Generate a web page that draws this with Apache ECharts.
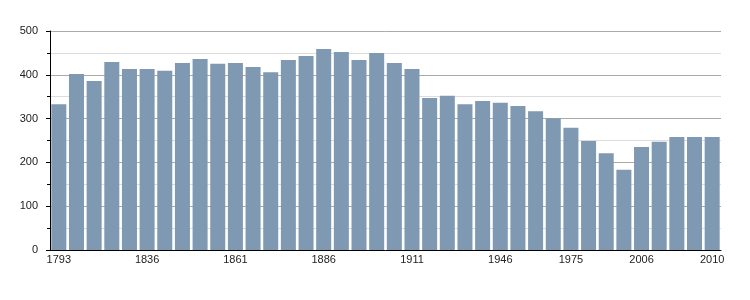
<!DOCTYPE html>
<html><head><meta charset="utf-8">
<script src="https://cdn.jsdelivr.net/npm/echarts@6/dist/echarts.min.js"></script>
<style>html,body{margin:0;padding:0;background:#fff}#c{width:750px;height:300px}</style>
</head><body><div id="c"></div>
<script>
const years = ['1793','1800','1806','1821','1831','1836','1841','1846','1851','1856','1861','1866','1872','1876','1881','1886','1891','1896','1901','1906','1911','1921','1926','1931','1936','1946','1954','1962','1968','1975','1982','1990','1999','2006','2007','2008','2009','2010'];
const population = [333,402,386,429,413,413,409,427,436,425,427,418,406,434,443,459,452,434,450,427,413,347,352,333,340,336,329,317,301,279,249,221,183,235,247,258,258,258];
const shownLabels = ['1793','1836','1861','1886','1911','1946','1975','2006','2010'];
const yTicks = {min:0, max:500, interval:100};

const chart = echarts.init(document.getElementById('c'), null, {renderer:'canvas'});
chart.setOption({
  animation:false,
  grid:{left:50, right:29, top:31, bottom:50, containLabel:false},
  xAxis:{
    type:'category', data:years, boundaryGap:true,
    axisLine:{lineStyle:{color:'#000', width:1}},
    axisTick:{show:false},
    axisLabel:{
      interval:(i,v)=>shownLabels.includes(v),
      color:'#222', fontFamily:'Liberation Sans, Arial, sans-serif', fontSize:11, margin:4
    }
  },
  yAxis:{
    type:'value', min:yTicks.min, max:yTicks.max, interval:yTicks.interval,
    axisLine:{show:true, lineStyle:{color:'#000', width:1}},
    axisTick:{show:true, length:4, lineStyle:{color:'#000'}},
    minorTick:{show:true, splitNumber:2, length:3, lineStyle:{color:'#000'}},
    splitLine:{show:true, lineStyle:{color:'#aaa', width:1}},
    minorSplitLine:{show:true, lineStyle:{color:'#ddd', width:1}},
    axisLabel:{color:'#222', fontFamily:'Liberation Sans, Arial, sans-serif', fontSize:11, margin:12}
  },
  series:[{
    type:'bar', data:population, barCategoryGap:'15%',
    itemStyle:{color:'#7f99b2'}
  }]
});
</script></body></html>
